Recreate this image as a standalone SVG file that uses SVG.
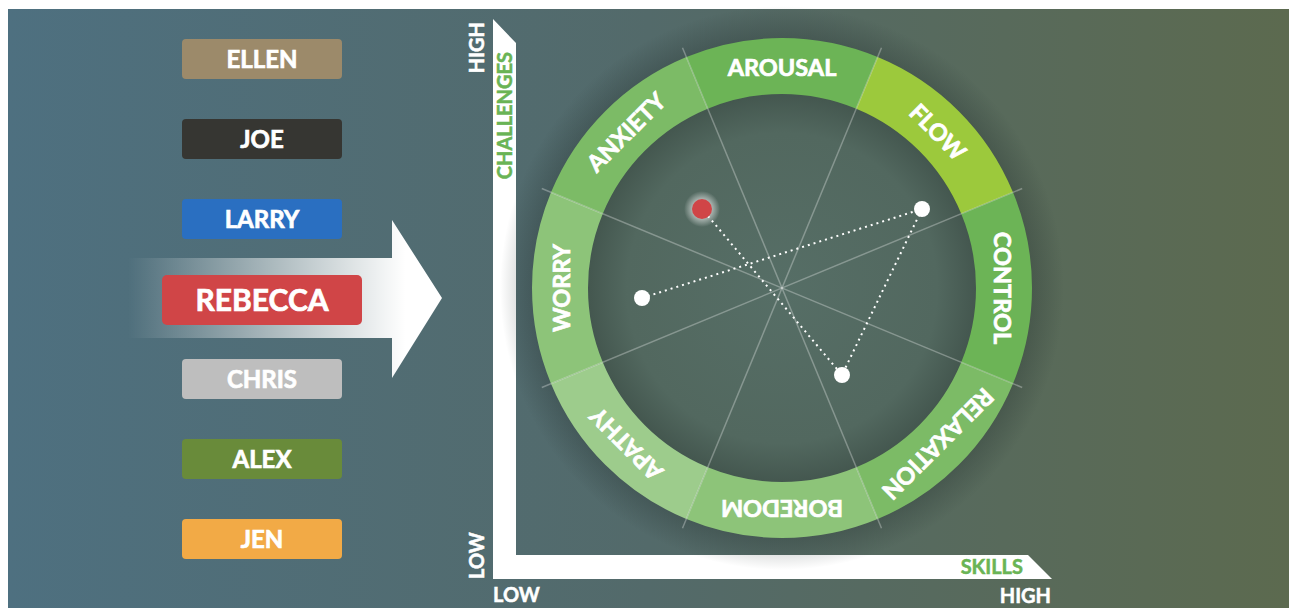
<svg xmlns="http://www.w3.org/2000/svg" width="1289" height="608" viewBox="0 0 1289 608">
<defs>
<linearGradient id="bg" x1="0" y1="0" x2="1" y2="0">
<stop offset="0" stop-color="#4e7080"/>
<stop offset="0.5" stop-color="#536a6a"/>
<stop offset="1" stop-color="#5c6a4f"/>
</linearGradient>
<linearGradient id="arrowGrad" gradientUnits="userSpaceOnUse" x1="128" y1="0" x2="405" y2="0">
<stop offset="0" stop-color="#ffffff" stop-opacity="0"/>
<stop offset="1" stop-color="#ffffff" stop-opacity="1"/>
</linearGradient>
<radialGradient id="halo" gradientUnits="userSpaceOnUse" cx="782" cy="288" r="282">
<stop offset="0.85" stop-color="#1e2a28" stop-opacity="0.35"/>
<stop offset="1" stop-color="#1e2a28" stop-opacity="0"/>
</radialGradient>
<radialGradient id="disc" gradientUnits="userSpaceOnUse" cx="782" cy="288" r="194">
<stop offset="0" stop-color="#566e66"/>
<stop offset="0.8" stop-color="#52685f"/>
<stop offset="1" stop-color="#44574f"/>
</radialGradient>
<radialGradient id="glow">
<stop offset="0.5" stop-color="#ffffff" stop-opacity="0.55"/>
<stop offset="1" stop-color="#ffffff" stop-opacity="0"/>
</radialGradient>
<style>
.name{font-family:Lato,"Liberation Sans",sans-serif;font-weight:bold;font-size:24px;fill:#ffffff;stroke:#ffffff;stroke-width:0.7;text-anchor:middle}
.ring{font-family:Lato,"Liberation Sans",sans-serif;font-weight:bold;font-size:23.5px;fill:#ffffff;stroke:#ffffff;stroke-width:0.7;text-anchor:middle}
.axis{font-family:Lato,"Liberation Sans",sans-serif;font-weight:bold;font-size:20px;fill:#ffffff;stroke:#ffffff;stroke-width:0.5}
.axisG{font-family:Lato,"Liberation Sans",sans-serif;font-weight:bold;font-size:20px;fill:#6ab455;stroke:#6ab455;stroke-width:0.5}
.div{stroke:#ffffff;stroke-opacity:0.3;stroke-width:1.5}
.dots{stroke:#ffffff;stroke-width:2;stroke-dasharray:2 4;fill:none}
</style>
</defs>
<rect x="0" y="0" width="1289" height="608" fill="#ffffff"/>
<rect x="8" y="9" width="1281" height="599" fill="url(#bg)"/>

<g id="arrow">
<polygon points="128,258 392,258 392,220 442,298 392,378 392,338 128,338" fill="url(#arrowGrad)"/>
</g>

<g id="ellen"><rect x="182" y="39" width="160" height="40" rx="4" fill="#9c8a6a"/><text class="name" x="262" y="68">ELLEN</text></g>
<g id="joe"><rect x="182" y="119" width="160" height="40" rx="4" fill="#363632"/><text class="name" x="262" y="148">JOE</text></g>
<g id="larry"><rect x="182" y="199" width="160" height="40" rx="4" fill="#2a6fc1"/><text class="name" x="262" y="228">LARRY</text></g>
<g id="rebecca"><rect x="162" y="275" width="200" height="50" rx="5" fill="#d04547"/><text class="name" x="262" y="311" style="font-size:30px">REBECCA</text></g>
<g id="chris"><rect x="182" y="359" width="160" height="40" rx="4" fill="#bebebe"/><text class="name" x="262" y="388">CHRIS</text></g>
<g id="alex"><rect x="182" y="439" width="160" height="40" rx="4" fill="#698b3a"/><text class="name" x="262" y="468">ALEX</text></g>
<g id="jen"><rect x="182" y="519" width="160" height="40" rx="4" fill="#f2aa46"/><text class="name" x="262" y="548">JEN</text></g>

<g id="axes">
<polygon points="493,19 516,43 516,555 1028,555 1052,579 493,579" fill="#ffffff"/>
<text class="axisG" transform="translate(511.5,52) rotate(-90)" text-anchor="end">CHALLENGES</text>
<text class="axis" transform="translate(483.5,22) rotate(-90)" text-anchor="end">HIGH</text>
<text class="axis" transform="translate(484,579) rotate(-90)">LOW</text>
<text class="axisG" x="1023" y="574" text-anchor="end">SKILLS</text>
<text class="axis" x="493" y="602">LOW</text>
<text class="axis" x="1051" y="603" text-anchor="end">HIGH</text>
</g>

<g id="wheel">
<circle cx="782" cy="288" r="282" fill="url(#halo)"/>
<circle cx="782" cy="288" r="194" fill="url(#disc)"/>
<g id="arousal"><path d="M686.33,57.03 A250,250 0 0 1 877.67,57.03 L856.24,108.77 A194,194 0 0 0 707.76,108.77 Z" fill="#6cb456"/></g>
<g id="flow"><path d="M877.67,57.03 A250,250 0 0 1 1012.97,192.33 L961.23,213.76 A194,194 0 0 0 856.24,108.77 Z" fill="#9cc93c"/></g>
<g id="control"><path d="M1012.97,192.33 A250,250 0 0 1 1012.97,383.67 L961.23,362.24 A194,194 0 0 0 961.23,213.76 Z" fill="#6cb456"/></g>
<g id="relaxation"><path d="M1012.97,383.67 A250,250 0 0 1 877.67,518.97 L856.24,467.23 A194,194 0 0 0 961.23,362.24 Z" fill="#7cbb66"/></g>
<g id="boredom"><path d="M877.67,518.97 A250,250 0 0 1 686.33,518.97 L707.76,467.23 A194,194 0 0 0 856.24,467.23 Z" fill="#8dc479"/></g>
<g id="apathy"><path d="M686.33,518.97 A250,250 0 0 1 551.03,383.67 L602.77,362.24 A194,194 0 0 0 707.76,467.23 Z" fill="#9dcc8c"/></g>
<g id="worry"><path d="M551.03,383.67 A250,250 0 0 1 551.03,192.33 L602.77,213.76 A194,194 0 0 0 602.77,362.24 Z" fill="#8dc479"/></g>
<g id="anxiety"><path d="M551.03,192.33 A250,250 0 0 1 686.33,57.03 L707.76,108.77 A194,194 0 0 0 602.77,213.76 Z" fill="#7cbb66"/></g>
<g id="dividers">
<line class="div" x1="881.5" y1="47.79" x2="682.5" y2="528.21"/>
<line class="div" x1="1022.21" y1="188.5" x2="541.79" y2="387.5"/>
<line class="div" x1="1022.21" y1="387.5" x2="541.79" y2="188.5"/>
<line class="div" x1="881.5" y1="528.21" x2="682.5" y2="47.79"/>
</g>
<g id="ring-labels" transform="translate(782,288)">
<text class="ring" transform="rotate(0) translate(0,-220)" dy="8">AROUSAL</text>
<text class="ring" transform="rotate(45) translate(0,-220)" dy="8">FLOW</text>
<text class="ring" transform="rotate(90) translate(0,-220)" dy="8">CONTROL</text>
<text class="ring" transform="rotate(135) translate(0,-220)" dy="8">RELAXATION</text>
<text class="ring" transform="rotate(180) translate(0,-220)" dy="8">BOREDOM</text>
<text class="ring" transform="rotate(225) translate(0,-220)" dy="8">APATHY</text>
<text class="ring" transform="rotate(270) translate(0,-220)" dy="8">WORRY</text>
<text class="ring" transform="rotate(315) translate(0,-220)" dy="8">ANXIETY</text>
</g>
</g>

<g id="connectors">
<line class="dots" x1="708" y1="216" x2="842" y2="375"/>
<line class="dots" x1="642" y1="298" x2="922" y2="209"/>
<line class="dots" x1="922" y1="209" x2="842" y2="375"/>
</g>

<g id="rebecca-point"><circle cx="702" cy="209" r="18" fill="url(#glow)"/><circle cx="702" cy="209" r="10" fill="#d04547"/></g>
<g id="point-a"><circle cx="922" cy="209" r="8" fill="#ffffff"/></g>
<g id="point-b"><circle cx="642" cy="298" r="8" fill="#ffffff"/></g>
<g id="point-c"><circle cx="842" cy="375" r="8" fill="#ffffff"/></g>
</svg>
